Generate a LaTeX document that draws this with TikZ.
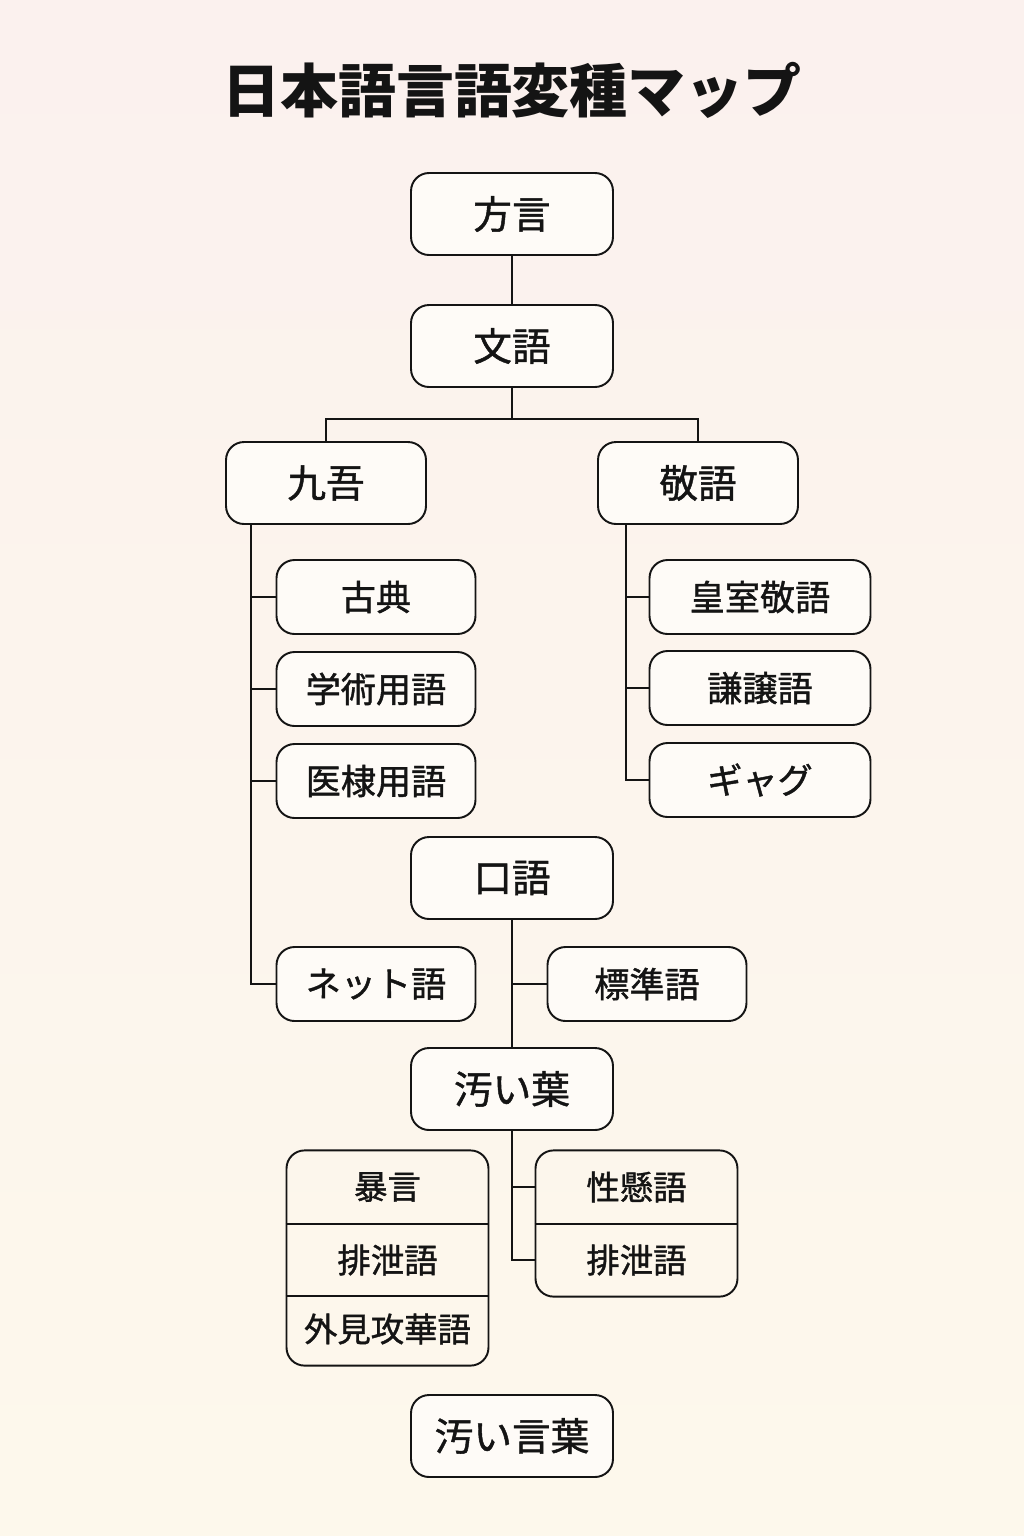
\documentclass[tikz,border=0pt]{standalone}
\usepackage{fontspec}
\setmainfont{Noto Sans CJK JP}
\newfontfamily\boxfont{Noto Sans CJK JP}[FakeBold=1.2]
\usetikzlibrary{
  positioning,
  fit,
  calc
}
\usepackage{xcolor}
\definecolor{bgTop}{rgb}{0.984,0.945,0.933}
\definecolor{bgBottom}{rgb}{0.992,0.973,0.925}
\definecolor{boxFill}{rgb}{0.996,0.984,0.969}
\definecolor{inkDark}{rgb}{0.08,0.08,0.08}
\tikzset{
  term/.style={
    rectangle,
    rounded corners=0.36cm,
    draw=inkDark,
    line width=1.1pt,
    fill=boxFill,
    minimum width=4.04cm,
    minimum height=1.64cm,
    font=\boxfont\fontsize{22}{26}\selectfont,
    text=inkDark
  }
}
\tikzset{
  leaf/.style={
    term,
    minimum width=3.98cm,
    minimum height=1.48cm,
    font=\boxfont\fontsize{20}{24}\selectfont
  }
}
\tikzset{
  row/.style={
    rectangle,
    inner sep=0pt,
    minimum width=4.02cm,
    minimum height=1.45cm,
    font=\boxfont\fontsize{19}{23}\selectfont,
    text=inkDark
  }
}
\tikzset{
  link/.style={draw=inkDark, line width=1.1pt}
}

\begin{document}
\begin{tikzpicture}[x=0.02cm, y=-0.02cm]
    \shade[top color=bgTop, bottom color=bgBottom] (0,0) rectangle (1024,1536);
    \useasboundingbox (0,0) rectangle (1024,1536);

    \node[font=\fontsize{33}{38}\selectfont\bfseries, text=inkDark] (title) at (512,90) {日本語言語変種マップ};

    % upper tree
    \node[term] (hogen) at (512,214) {方言};
    \node[term] (bungo) at (512,346) {文語};
    \node[term, minimum width=4cm] (kugo) at (326,483) {九吾};
    \node[term, minimum width=4cm] (keigo) at (698,483) {敬語};

    \node[leaf] (koten) at (376,597) {古典};
    \node[leaf] (gakujutsu) at (376,689) {学術用語};
    \node[leaf] (iryo) at (376,781) {医棣用語};
    \node[leaf] (net) at (376,984) {ネット語};

    \node[leaf, minimum width=4.42cm] (koshitsu) at (760,597) {皇室敬語};
    \node[leaf, minimum width=4.42cm] (kenjo) at (760,688) {謙譲語};
    \node[leaf, minimum width=4.42cm] (gag) at (760,780) {ギャグ};

    % lower tree
    \node[term] (kogo) at (512,878) {口語};
    \node[leaf] (hyojun) at (647,984) {標準語};
    \node[term] (kitanaiA) at (512,1089) {汚い葉};
    \node[term] (kitanaiB) at (512,1436) {汚い言葉};

    % stacked boxes
    \node[row] (boA) at (387.5,1187) {暴言};
    \node[row] (haiA) at (387.5,1260) {排泄語};
    \node[row] (gai) at (387.5,1329) {外見攻華語};
    \node[row] (sei) at (636.5,1187) {性懸語};
    \node[row] (haiB) at (636.5,1260) {排泄語};
    \node[term, fit=(boA)(haiA)(gai), inner sep=0pt, fill=none] (stackL) {};
    \node[term, fit=(sei)(haiB), inner sep=0pt, fill=none] (stackR) {};
    \draw[link] (stackL.west |- 0,1224) -- (stackL.east |- 0,1224);
    \draw[link] (stackL.west |- 0,1296) -- (stackL.east |- 0,1296);
    \draw[link] (stackR.west |- 0,1224) -- (stackR.east |- 0,1224);

    % connectors
    \coordinate (fork) at (512,419);
    \coordinate (busL) at (251,524);
    \coordinate (busR) at (626,524);
    \coordinate (busK) at (512,1260);
    \draw[link] (hogen) -- (bungo);
    \draw[link] (bungo) -- (fork);
    \draw[link] (kugo.north) |- (fork) -| (keigo.north);
    \draw[link] (busL) |- (net.west);
    \foreach \target in {koten, gakujutsu, iryo}
      \draw[link] (busL |- \target.west) -- (\target.west);
    \draw[link] (busR) |- (gag.west);
    \foreach \target in {koshitsu, kenjo}
      \draw[link] (busR |- \target.west) -- (\target.west);
    \draw[link] (kogo) -- (kitanaiA);
    \draw[link] (kogo |- hyojun.west) -- (hyojun.west);
    \draw[link] (kitanaiA.south) -- (busK) -- (stackR.west |- busK);
    \draw[link] (kitanaiA |- sei) -- (stackR.west |- sei);
  \end{tikzpicture}
\end{document}
